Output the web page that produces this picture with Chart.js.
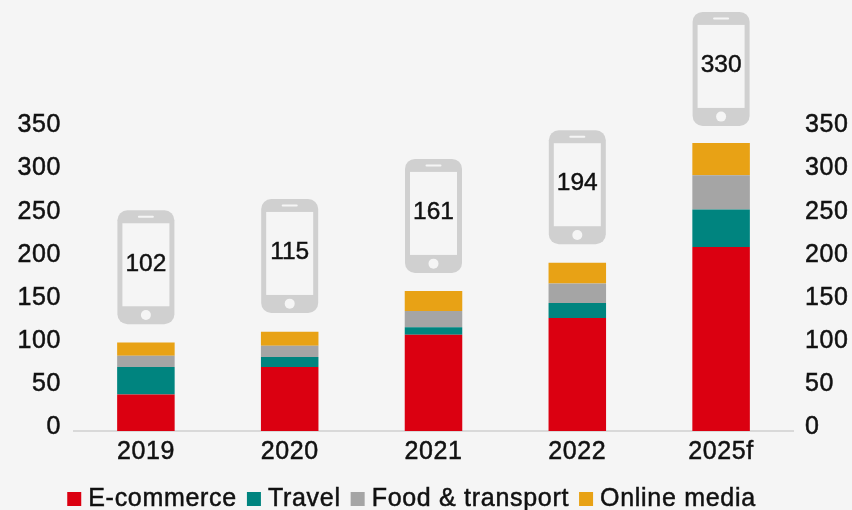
<!DOCTYPE html>
<html><head><meta charset="utf-8">
<script src="https://cdn.jsdelivr.net/npm/chart.js@4"></script>
<style>html,body{margin:0;padding:0;background:#f5f5f5}#w{width:852px;height:510px;position:relative}</style>
</head><body><div id="w"><canvas id="c"></canvas></div>
<script>
const categories = ['2019','2020','2021','2022','2025f'];
const ecommerce = [42,73.5,110.7,130,211.5];
const travel = [31.6,11.5,8.5,17.2,43];
const foodTransport = [13,13,18.7,22.3,39.5];
const onlineMedia = [15,16,23,24,37];
const totals = [102,115,161,194,330];
const tickValues = [0,50,100,150,200,250,300,350];
const seriesNames = ['E-commerce','Travel','Food & transport','Online media'];
const seriesColors = ['#db0011','#00847f','#a5a5a5','#e8a215'];
const FONT = '"Liberation Sans"';
const INK = '#111111';
const SPACING = '0.6px';

const phones = {
  id:'phones',
  beforeUpdate(chart){chart.ctx.letterSpacing=SPACING;},
  beforeDraw(chart){chart.ctx.letterSpacing=SPACING;},
  afterDatasetsDraw(chart){
    const {ctx,scales:{x,y}} = chart;
    totals.forEach((t,i)=>{
      const cx = x.getPixelForTick(i);
      const bottom = y.getPixelForValue(t)-18;
      const top = bottom-114, left = cx-28.5;
      ctx.save();
      ctx.fillStyle='#d0d0d0';
      ctx.beginPath();ctx.roundRect(left,top,57,114,10);ctx.fill();
      ctx.fillStyle='#f5f5f5';
      ctx.fillRect(cx-23.5,top+13,47,83);
      ctx.beginPath();ctx.roundRect(cx-8,top+5.5,16,2,1);ctx.fill();
      ctx.beginPath();ctx.arc(cx,top+104.7,5,0,Math.PI*2);ctx.fill();
      ctx.fillStyle=INK;ctx.strokeStyle=INK;ctx.lineWidth=0.45;
      ctx.font='24.5px '+FONT;
      ctx.letterSpacing='0px';
      ctx.textAlign='center';ctx.textBaseline='middle';
      ctx.fillText(String(t),cx,top+53.5);
      ctx.strokeText(String(t),cx,top+53.5);
      ctx.restore();
    });
  },
  afterDraw(chart){
    const ctx=chart.ctx, y=499;
    ctx.save();
    ctx.font='25px '+FONT;
    ctx.letterSpacing='0.7px';
    ctx.textBaseline='middle';ctx.textAlign='left';
    const widths=seriesNames.map(s=>ctx.measureText(s).width);
    const total=widths.reduce((a,b)=>a+b+21,0)+10*3;
    let x=411.5-total/2;
    seriesNames.forEach((s,i)=>{
      ctx.fillStyle=seriesColors[i];
      ctx.fillRect(x,y-7,14,14);
      ctx.fillStyle=INK;
      ctx.strokeStyle=INK;ctx.lineWidth=0.5;
      ctx.fillText(s,x+21,y);
      ctx.strokeText(s,x+21,y);
      x+=21+widths[i]+10;
    });
    ctx.restore();
  }
};
const ds=(i,data)=>({label:seriesNames[i],data,backgroundColor:seriesColors[i],borderWidth:0,stack:'s',yAxisID:'y',
  barPercentage:0.4,categoryPercentage:1});
const labelAxis=(position,w)=>({
  position,min:-4.1,max:495.4,
  grid:{display:false,drawTicks:false},border:{display:false},
  afterBuildTicks(a){a.ticks=tickValues.map(value=>({value}));},
  afterFit(a){a.width=w;a.paddingTop=0;a.paddingBottom=0;},
  ticks:{color:INK,font:{family:FONT,size:25},padding:position==='left'?13:12,autoSkip:false,
    textStrokeColor:INK,textStrokeWidth:0.5}
});
new Chart(document.getElementById('c'),{
  type:'bar',
  data:{labels:categories,datasets:[ds(0,ecommerce),ds(1,travel),ds(2,foodTransport),ds(3,onlineMedia)]},
  options:{
    responsive:true,maintainAspectRatio:false,animation:false,
    layout:{padding:{bottom:39}},
    plugins:{tooltip:{enabled:false},legend:{display:false}},
    scales:{
      x:{stacked:true,grid:{display:false},border:{color:'#d9d9d9',width:2},
        afterFit(a){a.height=40;a.paddingLeft=0;a.paddingRight=0;},
        ticks:{color:INK,font:{family:FONT,size:25},padding:-2,maxRotation:0,
          textStrokeColor:INK,textStrokeWidth:0.5}},
      y:{stacked:true,display:false,min:0,max:495.4},
      yL:labelAxis('left',74),
      yR:labelAxis('right',59)
    }
  },
  plugins:[phones]
});
</script></body></html>
